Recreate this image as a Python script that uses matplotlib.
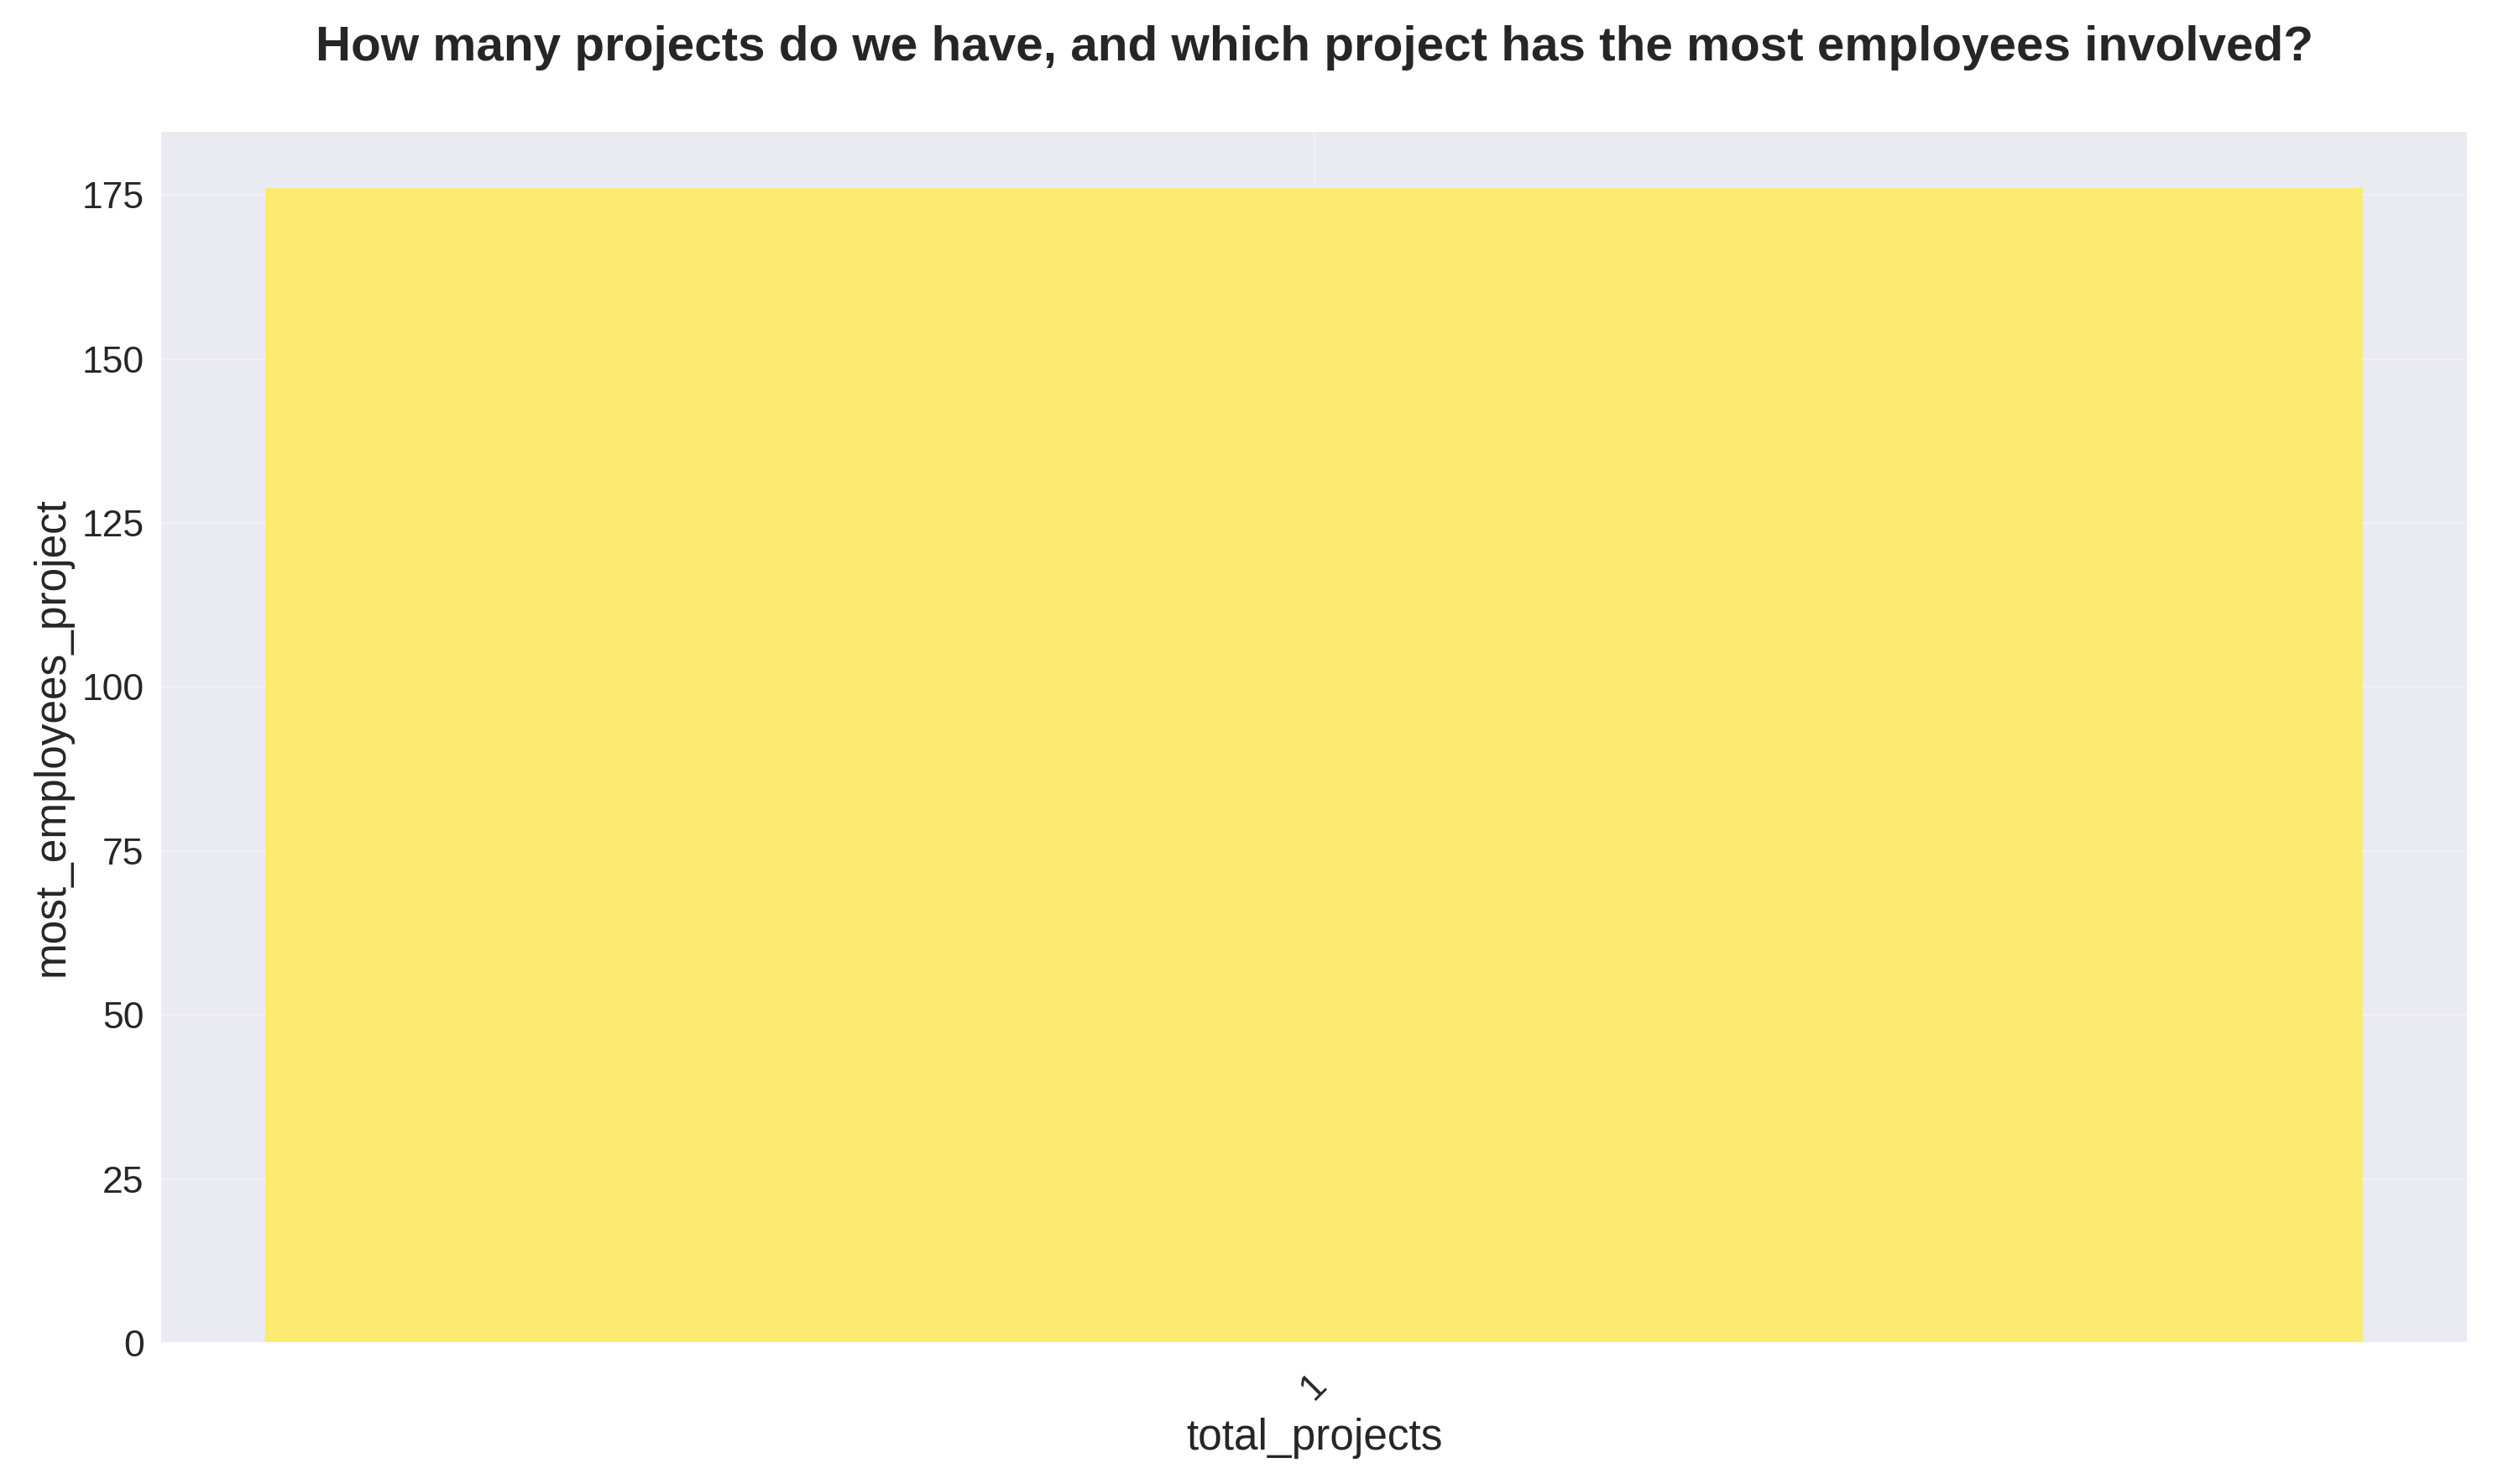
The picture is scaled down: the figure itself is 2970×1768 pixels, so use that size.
import matplotlib
matplotlib.use("Agg")
import matplotlib.pyplot as plt
import seaborn as sns

categories = ["1"]
values = [176]
x_label = "total_projects"
y_label = "most_employees_project"
title = "How many projects do we have, and which project has the most employees involved?"

sns.set_style("darkgrid")
plt.rcParams['font.family'] = ['Liberation Sans', 'DejaVu Sans']

fig = plt.figure(figsize=(14.85, 8.84), dpi=200)
ax = fig.add_axes([0.0643, 0.095, 0.9257, 0.817])
ax.bar(categories, values, color='#fdeb71', width=0.8, edgecolor='none', linewidth=0)
ax.grid(True, alpha=0.35)
ax.set_axisbelow(True)
ax.set_xlabel(x_label, fontsize=18.5, labelpad=5)
ax.set_ylabel(y_label, fontsize=18.5)
ax.set_title(title, fontsize=21, fontweight='bold', pad=30)
ax.tick_params(axis='x', pad=7)
plt.setp(ax.get_xticklabels(), rotation=45, ha='center', fontsize=16)
plt.setp(ax.get_yticklabels(), fontsize=16)
fig.savefig("out.png", dpi=200)
